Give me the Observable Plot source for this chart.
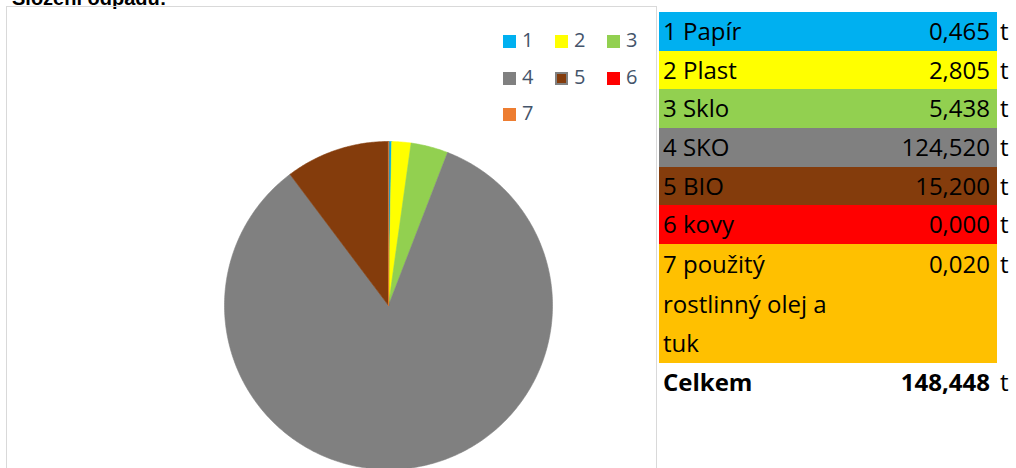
<!DOCTYPE html>
<html>
<head>
<meta charset="utf-8">
<script src="https://cdn.jsdelivr.net/npm/d3@7"></script>
<script src="https://cdn.jsdelivr.net/npm/@observablehq/plot@0.6"></script>
<style>
  html, body { margin: 0; padding: 0; width: 1016px; height: 468px; overflow: hidden; background: #fff; }
  body { position: relative; font-family: "Open Sans", "Noto Sans", sans-serif; }
  #title { position: absolute; left: 12px; top: -12px; font: bold 20px/20px "Liberation Sans", Arial, sans-serif; color: #000; white-space: nowrap; }
  #box { position: absolute; left: 6px; top: 6px; width: 649px; height: 480px; border: 1px solid #D9D9D9; }
  #chart { position: absolute; left: 7px; top: 7px; }
  #legend { position: absolute; left: 0; top: 0; }
  .li { position: absolute; font-size: 20px; line-height: 20px; color: #44546A; }
  .sw { position: absolute; width: 13px; height: 13px; box-sizing: border-box; }
  #tbl { position: absolute; left: 659px; top: 12px; }
  .row { position: absolute; left: 0; width: 338px; }
  .nm { position: absolute; left: 4px; top: 0; white-space: pre-line; color: #000; font-size: 24px; }
  .val { position: absolute; right: 7px; top: 0; color: #000; font-size: 24px; }
  .unit { position: absolute; left: 341px; top: 0; color: #000; font-size: 24px; }
</style>
</head>
<body>
<div id="title">Složení odpadu:</div>
<div id="box"></div>
<div id="chart"></div>
<div id="legend"></div>
<div id="tbl"></div>
<script>
// ---- data ----
const ids = ["1", "2", "3", "4", "5", "6", "7"];
const names = ["Papír", "Plast", "Sklo", "SKO", "BIO", "kovy", "použitý\nrostlinný olej a\ntuk"];
const values = [0.465, 2.805, 5.438, 124.520, 15.200, 0.000, 0.020];
const valueLabels = ["0,465", "2,805", "5,438", "124,520", "15,200", "0,000", "0,020"];
const sliceColors = ["#00B0F0", "#FFFF00", "#92D050", "#808080", "#843C0C", "#FF0000", "#ED7D31"];
const rowColors = ["#00B0F0", "#FFFF00", "#92D050", "#808080", "#843C0C", "#FF0000", "#FFC000"];
const totalLabel = "Celkem";
const totalValue = "148,448";
const unit = "t";

// ---- pie geometry from data ----
const arcs = d3.pie().sort(null).value(d => d)(values);
const pts = [];
arcs.forEach((a, i) => {
  if (a.endAngle - a.startAngle <= 0) return;
  pts.push({id: ids[i], x: 0, y: 0});
  const n = Math.max(2, Math.ceil((a.endAngle - a.startAngle) / 0.01));
  for (let k = 0; k <= n; k++) {
    const t = a.startAngle + (a.endAngle - a.startAngle) * k / n;
    pts.push({id: ids[i], x: Math.sin(t), y: Math.cos(t)});
  }
});

const cx = 381, cy = 298, r = 164;
const chart = Plot.plot({
  width: 649,
  height: 470,
  margin: 0,
  x: {domain: [-1, 1], range: [cx - r, cx + r], axis: null},
  y: {domain: [-1, 1], range: [cy + r, cy - r], axis: null},
  color: {type: "ordinal", domain: ids, range: sliceColors},
  marks: [
    Plot.line(pts, {x: "x", y: "y", z: "id", fill: "id", stroke: "id", strokeWidth: 0.6, curve: "linear-closed"})
  ]
});
document.getElementById("chart").appendChild(chart);

// ---- legend ----
const leg = document.getElementById("legend");
const colX = [503, 555, 607];
const rowY = [41, 78, 114];
ids.forEach((id, i) => {
  const cxl = colX[i % 3], cyl = rowY[Math.floor(i / 3)];
  const sw = document.createElement("div");
  sw.className = "sw";
  sw.style.left = cxl + "px";
  sw.style.top = (cyl - 6.5) + "px";
  sw.style.background = sliceColors[i];
  if (id === "5") sw.style.border = "2px solid #808080";
  leg.appendChild(sw);
  const lb = document.createElement("div");
  lb.className = "li";
  lb.style.left = (cxl + 19) + "px";
  lb.style.top = (cyl - 11) + "px";
  lb.textContent = id;
  leg.appendChild(lb);
});

// ---- table ----
const tbl = document.getElementById("tbl");
const rowH = 38.67;
let y = 0;
ids.forEach((id, i) => {
  const lines = names[i].split("\n").length;
  const lh = lines > 1 ? 39.67 : rowH;
  const h = lh * lines;
  const row = document.createElement("div");
  row.className = "row";
  row.style.top = y + "px";
  row.style.height = h + "px";
  row.style.background = rowColors[i];
  row.innerHTML = `<div class="nm" style="line-height:${lh}px">${id} ${names[i]}</div>` +
    `<div class="val" style="line-height:${lh}px">${valueLabels[i]}</div>` +
    `<div class="unit" style="line-height:${lh}px">${unit}</div>`;
  tbl.appendChild(row);
  y += h;
});
const tot = document.createElement("div");
tot.className = "row";
tot.style.top = y + "px";
tot.style.height = rowH + "px";
tot.innerHTML = `<div class="nm" style="line-height:${rowH}px;font-weight:bold">${totalLabel}</div>` +
  `<div class="val" style="line-height:${rowH}px;font-weight:bold">${totalValue}</div>` +
  `<div class="unit" style="line-height:${rowH}px">${unit}</div>`;
tbl.appendChild(tot);
</script>
</body>
</html>
